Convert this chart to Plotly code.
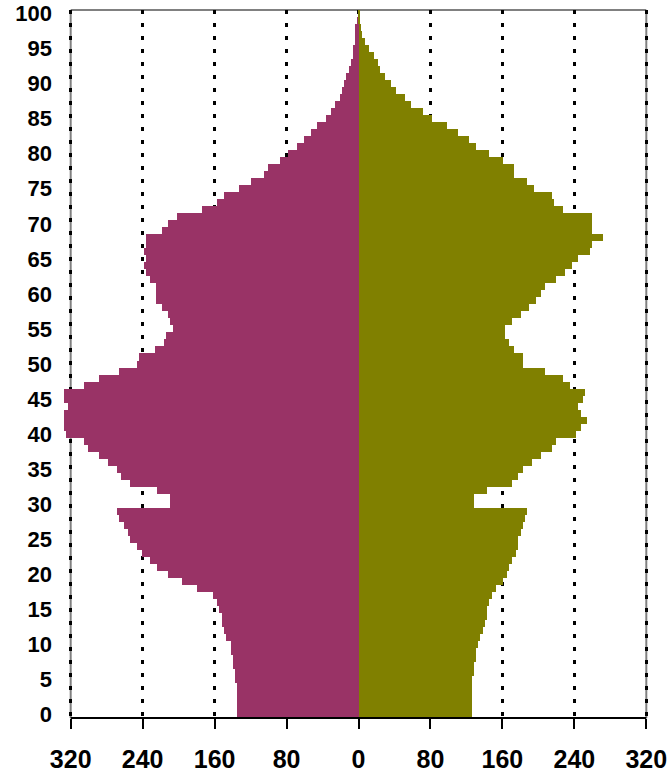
import plotly.graph_objects as go

ages = list(range(0, 101))

male = [135.1, 135.1, 135.1, 135.1, 135.1, 137.3, 137.3, 139.6, 139.6, 141.8,
        141.8, 147.4, 149.6, 151.4, 151.8, 155.2, 157.4, 161.8, 179.7, 196.4,
        212.0, 224.2, 232.0, 240.9, 246.5, 254.3, 256.5, 261.0, 266.5, 268.7,
        209.7, 209.7, 224.2, 254.3, 264.3, 268.7, 278.8, 288.8, 301.0, 305.5,
        325.5, 327.8, 327.8, 327.8, 323.3, 327.8, 327.8, 305.5, 288.8, 266.5,
        246.5, 244.2, 226.4, 216.4, 214.2, 206.4, 209.7, 212.3, 218.6, 224.6,
        224.6, 224.6, 232.0, 236.8, 238.7, 236.8, 238.7, 236.4, 236.4, 218.6,
        212.0, 201.9, 174.0, 157.0, 149.6, 132.9, 119.5, 105.0, 100.2, 87.2,
        78.3, 68.3, 60.5, 52.7, 46.0, 36.0, 30.4, 26.0, 20.4, 18.2,
        16.0, 13.7, 10.4, 8.2, 5.9, 5.9, 3.7, 3.7, 3.7, 0.8,
        0.4]

female = [126.2, 126.2, 126.2, 126.2, 126.2, 126.2, 128.4, 128.4, 130.7, 130.7,
          132.9, 135.1, 138.5, 140.7, 142.9, 142.9, 145.1, 148.5, 152.9, 160.7,
          165.2, 167.4, 170.7, 175.2, 177.4, 177.4, 180.8, 183.0, 185.2, 187.5,
          128.4, 128.4, 142.9, 170.7, 177.4, 183.0, 193.0, 203.0, 215.3, 219.7,
          242.0, 247.6, 254.3, 247.6, 244.2, 249.8, 252.0, 235.3, 227.5, 207.5,
          183.0, 183.0, 173.0, 167.4, 163.3, 163.3, 170.7, 180.8, 189.7, 197.5,
          203.0, 207.5, 219.7, 229.8, 237.6, 244.2, 257.6, 259.8, 272.0, 259.8,
          259.8, 259.8, 227.5, 217.5, 215.3, 195.2, 187.5, 173.0, 173.0, 160.7,
          145.1, 130.7, 122.9, 110.6, 98.4, 81.7, 71.6, 58.6, 52.0, 41.9,
          36.4, 29.7, 24.1, 21.9, 17.4, 11.9, 7.4, 4.1, 3.0, 1.5,
          1.8]

x_ticks = [-320, -240, -160, -80, 0, 80, 160, 240, 320]
x_tick_text = [str(abs(v)) for v in x_ticks]
y_ticks = list(range(0, 101, 5))

male_color = "#993366"
female_color = "#808000"

fig = go.Figure()
fig.add_trace(go.Bar(
    y=ages, x=[-v for v in male], orientation="h",
    marker=dict(color=male_color, line=dict(width=0)),
    name="Male", showlegend=False,
))
fig.add_trace(go.Bar(
    y=ages, x=female, orientation="h",
    marker=dict(color=female_color, line=dict(width=0)),
    name="Female", showlegend=False,
))

label_font = dict(family="Liberation Sans, Arial, sans-serif", color="black", weight="bold")

fig.update_layout(
    width=672, height=772,
    margin=dict(l=59, r=14, t=10, b=54, autoexpand=False),
    paper_bgcolor="white", plot_bgcolor="white",
    barmode="relative", bargap=0,
    xaxis=dict(
        range=[-333, 333],
        tickmode="array", tickvals=x_ticks, ticktext=x_tick_text,
        ticks="outside", ticklen=10, tickwidth=2, tickcolor="black",
        tickfont=dict(size=25, **label_font),
        ticklabelstandoff=9,
        showgrid=True, gridcolor="black", gridwidth=3, griddash="4px,9px",
        zeroline=False, showline=False, automargin=False,
        fixedrange=True,
    ),
    yaxis=dict(
        range=[-0.5, 100.5],
        tickmode="array", tickvals=y_ticks,
        ticks="", tickfont=dict(size=22, **label_font),
        ticklabelstandoff=6,
        showgrid=False, zeroline=False, showline=False, automargin=False,
        fixedrange=True,
    ),
    shapes=[
        dict(type="line", xref="x", yref="paper", x0=-320, x1=-320, y0=0, y1=1,
             line=dict(color="#808080", width=2), layer="below"),
        dict(type="line", xref="x", yref="paper", x0=320, x1=320, y0=0, y1=1,
             line=dict(color="#808080", width=2), layer="below"),
        dict(type="line", xref="x", yref="paper", x0=-320, x1=320, y0=1, y1=1,
             line=dict(color="#808080", width=2), layer="below"),
        dict(type="line", xref="x", yref="paper", x0=-320, x1=320, y0=0, y1=0,
             line=dict(color="black", width=2), layer="above"),
    ],
)

fig.write_html(
    "out.html",
    config={"displayModeBar": False},
    post_script="document.body.style.margin='0';document.body.style.padding='0';",
)
